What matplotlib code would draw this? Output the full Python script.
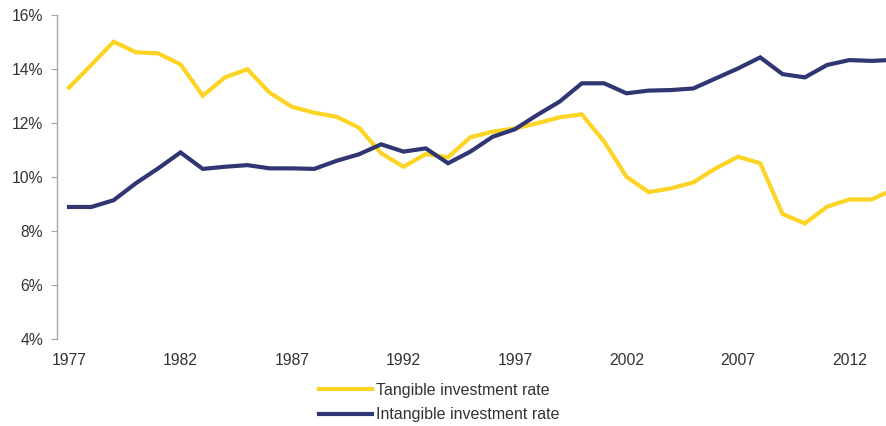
import matplotlib
matplotlib.use('Agg')
import matplotlib.pyplot as plt
from matplotlib.ticker import FuncFormatter

years = list(range(1977, 2015))

# tangible investment rate, %
tangible = [13.31, 14.15, 15.01, 14.62, 14.58, 14.17, 13.01, 13.69, 13.99, 13.12,
            12.60, 12.38, 12.23, 11.83, 10.88, 10.38, 10.85, 10.73, 11.47, 11.68,
            11.80, 11.99, 12.21, 12.32, 11.31, 10.01, 9.44, 9.58, 9.80, 10.32,
            10.75, 10.51, 8.63, 8.28, 8.90, 9.17, 9.17, 9.55]

# intangible investment rate, %
intangible = [8.89, 8.89, 9.14, 9.77, 10.32, 10.91, 10.30, 10.38, 10.44, 10.32,
              10.32, 10.30, 10.60, 10.84, 11.21, 10.94, 11.06, 10.51, 10.94, 11.49,
              11.77, 12.30, 12.79, 13.47, 13.47, 13.10, 13.20, 13.22, 13.28, 13.65,
              14.02, 14.43, 13.81, 13.69, 14.15, 14.33, 14.30, 14.34]

xtick_years = [1977, 1982, 1987, 1992, 1997, 2002, 2007, 2012]
yticks = [4, 6, 8, 10, 12, 14, 16]

plt.rcParams['font.family'] = ['Liberation Sans', 'DejaVu Sans']

fig = plt.figure(figsize=(8.86, 4.26), dpi=100)
ax = fig.add_axes([0.0643, 0.2042, 1 - 0.0643, 0.9648 - 0.2042])

ax.plot(years, tangible, color='#FDD423', linewidth=3.0,
        label='Tangible investment rate', solid_joinstyle='miter')
ax.plot(years, intangible, color='#2F3672', linewidth=3.0,
        label='Intangible investment rate', solid_joinstyle='miter')

ax.set_xlim(1976.46, 2013.64)
ax.set_ylim(4, 16)
ax.set_xticks(xtick_years)
ax.set_yticks(yticks)
ax.yaxis.set_major_formatter(FuncFormatter(lambda v, p: f'{v:.0f}%'))

for side in ['top', 'right', 'bottom']:
    ax.spines[side].set_visible(False)
ax.spines['left'].set_color('#A6A6A6')
ax.spines['left'].set_linewidth(1.0)
ax.tick_params(axis='y', length=4, color='#A6A6A6', labelsize=11.3,
               labelcolor='#333333', pad=6)
ax.tick_params(axis='x', length=0, labelsize=11.3, labelcolor='#333333', pad=10)

fig.legend(loc='upper left', bbox_to_anchor=(319 / 886, 1 - 383 / 426),
           frameon=False, fontsize=11.5, handlelength=3.3, handletextpad=0.3,
           borderpad=0, borderaxespad=0, labelspacing=0.58,
           labelcolor='#333333')

fig.savefig('out.png', dpi=100)
